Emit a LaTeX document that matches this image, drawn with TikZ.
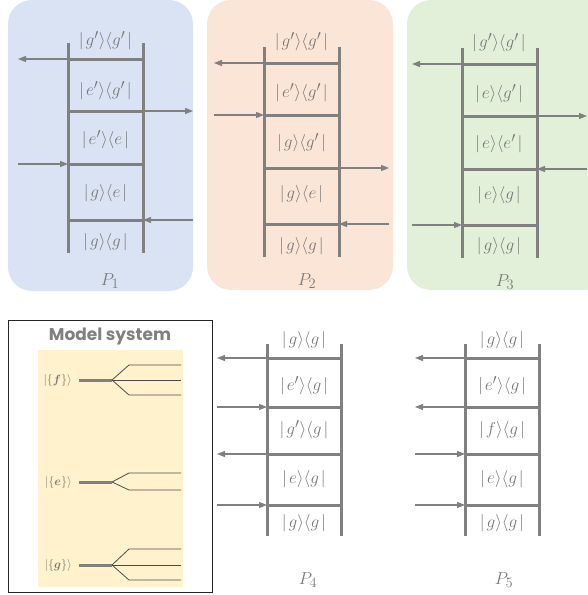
\documentclass[tikz,border=0pt]{standalone}
\usepackage{amsmath}
\usepackage{fontspec}
\newfontfamily\titlefont{Poppins}
\usetikzlibrary{arrows.meta, positioning}

\definecolor{railgray}{RGB}{128,128,128}
\definecolor{textgray}{RGB}{120,120,120}
\definecolor{blueback}{RGB}{218,227,243}
\definecolor{peachback}{RGB}{251,229,214}
\definecolor{greenback}{RGB}{226,240,217}
\definecolor{yellowback}{RGB}{255,242,204}

\newcommand{\kb}[2]{$\lvert\mkern2mu #1\rangle\langle #2\mkern2mu\rvert$}

\begin{document}
\begin{tikzpicture}[x=1pt, y=-1pt,
  rail/.style = {draw=railgray, line width=3pt},
  beam/.style = {draw=railgray, line width=1.1pt, -{Triangle[length=8pt,width=6pt]}},
  ket/.style = {text=textgray, font=\fontsize{19}{21}\selectfont, inner sep=0pt},
  lvl/.style = {text=textgray, font=\fontsize{13}{15}\selectfont, inner sep=0pt},
  level/.style = {draw=railgray, line width=3pt},
  split/.style = {draw=black!70, line width=0.8pt},
  panel/.style = {rounded corners=24pt}]
\useasboundingbox (0,0) rectangle (587,595);

% coloured panels
\fill[blueback, panel] (8,0) rectangle (193,291);
\fill[peachback, panel] (207,0) rectangle (393,290);
\fill[greenback, panel] (407,0) rectangle (611,290);

% top ladders
\foreach \p/\x/\d in {1/68/0, 2/264/4, 3/462/5} {
  \draw[rail] (\x,43+\d) -- (\x,253+\d);
  \draw[rail] (\x+75,43+\d) -- (\x+75,253+\d);
  \foreach \r/\y in {1/59, 2/111, 3/164, 4/220} {
    \coordinate (p\p l\r) at (\x,\y+\d);
    \coordinate (p\p r\r) at (\x+75,\y+\d);
    \coordinate (p\p wl\r) at (\x-50,\y+\d);
    \coordinate (p\p wr\r) at (\x+125,\y+\d);
    \draw[rail] (p\p l\r) -- (p\p r\r);
  }
}

% bottom ladders
\foreach \p/\x in {4/267, 5/465} {
  \draw[rail] (\x,344) -- (\x,536);
  \draw[rail] (\x+74,344) -- (\x+74,536);
  \foreach \r/\y in {1/358, 2/407, 3/454, 4/505} {
    \coordinate (p\p l\r) at (\x,\y);
    \coordinate (p\p r\r) at (\x+74,\y);
    \coordinate (p\p wl\r) at (\x-50,\y);
    \draw[rail] (p\p l\r) -- (p\p r\r);
  }
}

% states
\foreach \s/\y/\t in {0/41/\kb{g'}{g'}, 1/91/\kb{e'}{g'}, 2/140/\kb{e'}{e}, 3/193/\kb{g}{e}, 4/242/\kb{g}{g}}
  \node[ket] (p1s\s) at (105.5,\y) {\t};
\foreach \s/\y/\t in {0/42/\kb{g'}{g'}, 1/93/\kb{e'}{g'}, 2/143/\kb{g}{g'}, 3/194/\kb{g}{e}, 4/246/\kb{g}{g}}
  \node[ket] (p2s\s) at (301.5,\y) {\t};
\foreach \s/\y/\t in {0/43/\kb{g'}{g'}, 1/94/\kb{e}{g'}, 2/144/\kb{e}{e'}, 3/195/\kb{e}{g}, 4/246/\kb{g}{g}}
  \node[ket] (p3s\s) at (499,\y) {\t};
\foreach \s/\y/\t in {0/340/\kb{g}{g}, 1/386/\kb{e'}{g}, 2/430/\kb{g'}{g}, 3/479/\kb{e}{g}, 4/523/\kb{g}{g}}
  \node[ket] (p4s\s) at (304,\y) {\t};
\foreach \s/\y/\t in {0/340/\kb{g}{g}, 1/386/\kb{e'}{g}, 2/430/\kb{f}{g}, 3/479/\kb{e}{g}, 4/523/\kb{g}{g}}
  \node[ket] (p5s\s) at (502,\y) {\t};

% pulses
\draw[beam] (p1l1) -- (p1wl1);
\draw[beam] (p1r2) -- (p1wr2);
\draw[beam] (p1wl3) -- (p1l3);
\draw[beam] (p1wr4) -- (p1r4);
\draw[beam] (p2l1) -- (p2wl1);
\draw[beam] (p2wl2) -- (p2l2);
\draw[beam] (p2r3) -- (p2wr3);
\draw[beam] (p2wr4) -- (p2r4);
\draw[beam] (p3l1) -- (p3wl1);
\draw[beam] (p3r2) -- (p3wr2);
\draw[beam] (p3wr3) -- (p3r3);
\draw[beam] (p3wl4) -- (p3l4);
\draw[beam] (p4l1) -- (p4wl1);
\draw[beam] (p4wl2) -- (p4l2);
\draw[beam] (p4l3) -- (p4wl3);
\draw[beam] (p4wl4) -- (p4l4);
\draw[beam] (p5l1) -- (p5wl1);
\draw[beam] (p5l2) -- (p5wl2);
\draw[beam] (p5wl3) -- (p5l3);
\draw[beam] (p5wl4) -- (p5l4);

% pathway names
\node[ket] (P1) at (110,281) {$P_1$};
\node[ket] (P2) at (307,281) {$P_2$};
\node[ket] (P3) at (505,282) {$P_3$};
\node[ket] (P4) at (308,580) {$P_4$};
\node[ket] (P5) at (504,580) {$P_5$};

% model system
\draw[black!85, line width=0.8pt] (8,320) rectangle (212,592);
\node[text=railgray, font=\titlefont\bfseries\fontsize{17}{19}\selectfont] (title) at (110,336) {Model system};
\fill[yellowback] (38,350) rectangle (183,587);

\foreach \n/\y in {f/380, e/482, g/565} {
  \coordinate (\n a) at (79,\y);
  \coordinate (\n b) at (112,\y);
  \draw[level] (\n a) -- (\n b);
  \node[lvl, left=7pt of \n a] (\n lab) {$|\{\boldsymbol{\n}\}\rangle$};
}
\draw[split] (fb) -- (129,365) -- (181,365);
\draw[split] (fb) -- (181,380);
\draw[split] (fb) -- (129,395) -- (181,395);
\draw[split] (eb) -- (129,473) -- (181,473);
\draw[split] (eb) -- (129,490) -- (181,490);
\draw[split] (gb) -- (129,549) -- (181,549);
\draw[split] (gb) -- (181,565);
\draw[split] (gb) -- (129,580) -- (181,580);
\end{tikzpicture}
\end{document}
